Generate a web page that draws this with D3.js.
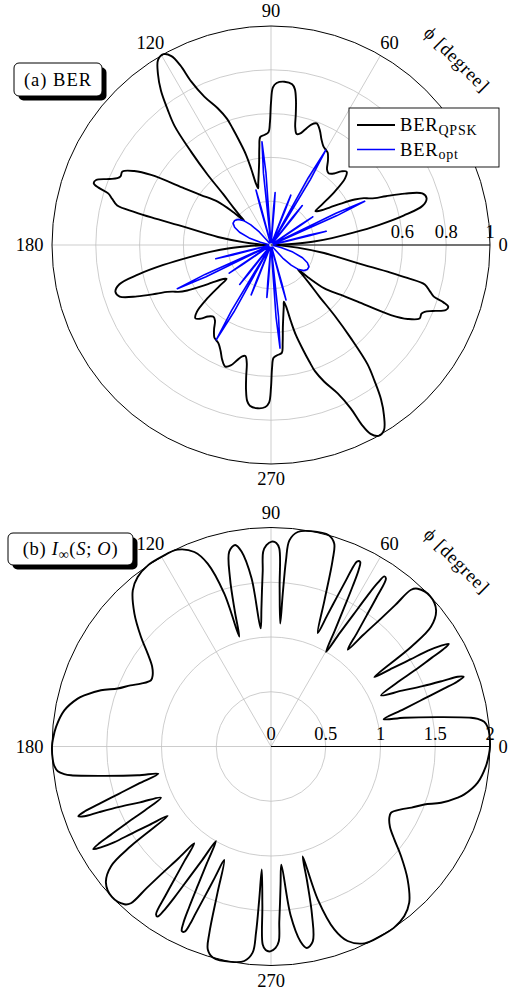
<!DOCTYPE html>
<html>
<head>
<meta charset="utf-8">
<script src="https://cdn.jsdelivr.net/npm/d3@7/dist/d3.min.js"></script>
<style>
  html, body { margin: 0; padding: 0; background: #ffffff; }
  svg { display: block; }
  text { font-family: "Liberation Serif", "Times New Roman", serif; fill: #000; }
</style>
</head>
<body>
<svg id="figure" width="514" height="992"></svg>
<script>
// ---------------- angular axis (degrees) ----------------
const angleTicks = [0, 60, 90, 120, 180, 270];
const angleTickLabels = ["0", "60", "90", "120", "180", "270"];

// ---------------- panel (a): BER ----------------
const berRings = [0.2, 0.4, 0.6, 0.8];
const berTicks = [0.6, 0.8, 1];
const berTickLabels = ["0.6", "0.8", "1"];

const qpskAnglesUpper = [0, 1.5, 3, 4.5, 6.5, 8.5, 10.5, 12.5, 14.5, 16.8,
  18.8, 21, 23, 24.3, 25.5, 26.8, 28.5, 30.5, 32.5, 34.5,
  36.3, 37.3, 38.5, 40, 42, 44.1, 46.3, 48.6, 51.3, 53.5,
  56, 58.5, 60.2, 62, 64.5, 67, 69.4, 71.5, 73.5, 75.5,
  77, 78.4, 79.3, 80.2, 81.3, 82.5, 85.3, 88, 89.3, 90,
  90.5, 91.3, 93.5, 95.7, 96.8, 98.2, 100, 101.8, 102.8, 103.8,
  104.6, 105.5, 107, 108.2, 109.2, 111.3, 114.2, 116, 116.8, 117.8,
  119.4, 121.4, 123.5, 125.5, 127.3, 129, 130.6, 132, 133.2, 135,
  136.8, 137.8, 139, 140.9, 144.5, 146.8, 149.7, 151.6, 153.7, 155.5,
  156.5, 157.8, 159.6, 160.8, 161.6, 162.4, 163.8, 165.6, 166.4, 167,
  168.2, 170, 171.4, 174.3, 177];
const qpskValuesUpper = [0.012, 0.04, 0.11, 0.19, 0.28, 0.38, 0.50, 0.62, 0.715, 0.742,
  0.73, 0.655, 0.57, 0.52, 0.495, 0.475, 0.435, 0.375, 0.32, 0.28,
  0.26, 0.255, 0.30, 0.38, 0.455, 0.481, 0.465, 0.435, 0.42, 0.43,
  0.465, 0.495, 0.502, 0.51, 0.535, 0.57, 0.593, 0.58, 0.55, 0.525,
  0.52, 0.55, 0.61, 0.67, 0.72, 0.74, 0.748, 0.74, 0.72, 0.65,
  0.56, 0.515, 0.503, 0.495, 0.45, 0.38, 0.325, 0.285, 0.265, 0.29,
  0.36, 0.43, 0.50, 0.56, 0.61, 0.67, 0.743, 0.83, 0.92, 0.975,
  1.0, 0.99, 0.935, 0.865, 0.78, 0.70, 0.56, 0.435, 0.32, 0.245,
  0.19, 0.165, 0.23, 0.314, 0.393, 0.473, 0.634, 0.71, 0.757, 0.755,
  0.765, 0.797, 0.852, 0.857, 0.83, 0.78, 0.755, 0.725, 0.64, 0.56,
  0.404, 0.30, 0.245, 0.122, 0.05];
const qpskAnglesLower = [180, 181.5, 183, 184.5, 186.5, 188.5, 190.5, 192.5, 194.5, 196.8,
  198.8, 201, 203, 204.3, 205.5, 206.8, 208.5, 210.5, 212.5, 214.5,
  216.3, 217.3, 218.5, 220, 222, 224.1, 226.3, 228.6, 231.3, 233.5,
  236, 238.5, 240.2, 242, 244.5, 247, 249.4, 251.5, 253.5, 255.5,
  257, 258.4, 259.3, 260.2, 261.3, 262.5, 265.3, 268, 269.3, 270,
  270.5, 271.3, 273.5, 275.7, 276.8, 278.2, 280, 281.8, 282.8, 283.8,
  284.6, 285.5, 287, 288.2, 289.2, 291.3, 294.2, 296, 296.8, 297.8,
  299.4, 301.4, 303.5, 305.5, 307.3, 309, 310.6, 312, 313.2, 315,
  316.8, 317.8, 319, 320.9, 324.5, 326.8, 329.7, 331.6, 333.7, 335.5,
  336.5, 337.8, 339.6, 340.8, 341.6, 342.4, 343.8, 345.6, 346.4, 347,
  348.2, 350, 351.4, 354.3, 357];
const qpskValuesLower = [0.012, 0.04, 0.11, 0.19, 0.28, 0.38, 0.50, 0.62, 0.715, 0.742,
  0.73, 0.655, 0.57, 0.52, 0.495, 0.475, 0.435, 0.375, 0.32, 0.28,
  0.26, 0.255, 0.30, 0.38, 0.455, 0.481, 0.465, 0.435, 0.42, 0.43,
  0.465, 0.495, 0.502, 0.51, 0.535, 0.57, 0.593, 0.58, 0.55, 0.525,
  0.52, 0.55, 0.61, 0.67, 0.72, 0.74, 0.748, 0.74, 0.72, 0.65,
  0.56, 0.515, 0.503, 0.495, 0.45, 0.38, 0.325, 0.285, 0.265, 0.29,
  0.36, 0.43, 0.50, 0.56, 0.61, 0.67, 0.743, 0.83, 0.92, 0.975,
  1.0, 0.99, 0.935, 0.865, 0.78, 0.70, 0.56, 0.435, 0.32, 0.245,
  0.19, 0.165, 0.23, 0.314, 0.393, 0.473, 0.634, 0.71, 0.757, 0.755,
  0.765, 0.797, 0.852, 0.857, 0.83, 0.78, 0.755, 0.725, 0.64, 0.56,
  0.404, 0.30, 0.245, 0.122, 0.05];

const optAnglesUpper = [0, 13, 13.5, 14, 14.5, 15, 23, 24, 25, 26, 27,
  33, 33.5, 34, 34.5, 35, 50.6, 51.1, 51.6, 52.1, 52.6,
  58, 59, 60, 61, 62, 67.3, 67.8, 68.3, 68.8, 69.3,
  84.5, 85, 85.5, 86, 86.5, 93, 94, 95, 96, 97,
  104.3, 104.8, 105.3, 105.8, 106.3,
  128, 132, 135, 138, 142, 146, 150, 154, 158, 162, 166, 169];
const optValuesUpper = [0.012, 0.012, 0.18, 0.26, 0.18, 0.012, 0.012, 0.33, 0.472, 0.33, 0.012,
  0.012, 0.16, 0.23, 0.16, 0.012, 0.012, 0.16, 0.23, 0.16, 0.012,
  0.012, 0.35, 0.50, 0.35, 0.012, 0.012, 0.17, 0.245, 0.17, 0.012,
  0.012, 0.17, 0.24, 0.17, 0.012, 0.012, 0.33, 0.473, 0.33, 0.012,
  0.012, 0.18, 0.26, 0.18, 0.012,
  0.012, 0.08, 0.13, 0.165, 0.19, 0.2, 0.2, 0.185, 0.155, 0.105, 0.05, 0.012];
const optAnglesLower = [180, 193, 193.5, 194, 194.5, 195, 203, 204, 205, 206, 207,
  213, 213.5, 214, 214.5, 215, 230.6, 231.1, 231.6, 232.1, 232.6,
  238, 239, 240, 241, 242, 247.3, 247.8, 248.3, 248.8, 249.3,
  264.5, 265, 265.5, 266, 266.5, 273, 274, 275, 276, 277,
  284.3, 284.8, 285.3, 285.8, 286.3,
  308, 312, 315, 318, 322, 326, 330, 334, 338, 342, 346, 349];
const optValuesLower = [0.012, 0.012, 0.18, 0.26, 0.18, 0.012, 0.012, 0.33, 0.472, 0.33, 0.012,
  0.012, 0.16, 0.23, 0.16, 0.012, 0.012, 0.16, 0.23, 0.16, 0.012,
  0.012, 0.35, 0.50, 0.35, 0.012, 0.012, 0.17, 0.245, 0.17, 0.012,
  0.012, 0.17, 0.24, 0.17, 0.012, 0.012, 0.33, 0.473, 0.33, 0.012,
  0.012, 0.18, 0.26, 0.18, 0.012,
  0.012, 0.08, 0.13, 0.165, 0.19, 0.2, 0.2, 0.185, 0.155, 0.105, 0.05, 0.012];

// ---------------- panel (b): I_inf(S;O) ----------------
const infoRings = [0.5, 1, 1.5];
const infoTicks = [0, 0.5, 1, 1.5, 2];
const infoTickLabels = ["0", "0.5", "1", "1.5", "2"];

const infoAnglesUpper = [0, 3.4, 5.1, 6.6, 7.6, 8.2, 10, 12.2, 13.6, 15.7,
  17.3, 18.5, 19.2, 19.9, 20.5, 20.9, 21.7, 23.1, 24.9, 26.9,
  27.9, 28.9, 29.4, 30, 30.7, 31.4, 32, 32.8, 33.9, 35.4,
  36.8, 39.5, 43.4, 47.1, 48.2, 48.7, 49.4, 50.4, 51.6, 52.9,
  53.9, 54.7, 55.6, 56.3, 56.9, 57.4, 58, 58.8, 59.8, 61.2,
  62.2, 63, 63.6, 64.2, 65, 65.5, 65.7, 66.2, 66.8, 67.6,
  69.9, 71.7, 72.7, 74.7, 79.5, 82.9, 84.9, 85.4, 85.6, 85.7,
  86.9, 87.6, 88.5, 89.8, 91.3, 92.3, 92.7, 93.3, 94, 95,
  96.6, 98.6, 100.1, 102.1, 103.7, 105, 106.1, 107, 109.1, 111.5,
  115.4, 120, 124.2, 128.2, 131.5, 135.8, 139.9, 143, 146, 149,
  151.1, 154.2, 156.5, 159.3, 161.7, 164.7, 166.1, 170.1, 174.8, 178];
const infoValuesUpper = [2.0, 1.997, 1.987, 1.96, 1.905, 1.845, 1.546, 1.245, 1.058, 1.26,
  1.46, 1.66, 1.80, 1.872, 1.82, 1.68, 1.49, 1.30, 1.108, 1.296,
  1.482, 1.675, 1.80, 1.875, 1.80, 1.68, 1.50, 1.32, 1.137, 1.569,
  1.824, 1.954, 2.0, 1.967, 1.92, 1.718, 1.52, 1.324, 1.128, 1.307,
  1.486, 1.665, 1.858, 1.867, 1.78, 1.633, 1.42, 1.21, 1.0, 1.213,
  1.428, 1.645, 1.80, 1.872, 1.866, 1.78, 1.672, 1.488, 1.303, 1.121,
  1.421, 1.791, 1.941, 2.0, 2.0, 1.974, 1.89, 1.706, 1.40, 1.125,
  1.458, 1.81, 1.86, 1.871, 1.84, 1.78, 1.604, 1.43, 1.257, 1.083,
  1.546, 1.80, 1.869, 1.82, 1.58, 1.274, 1.044, 1.459, 1.767, 1.909,
  1.99, 2.0, 2.0, 1.969, 1.905, 1.74, 1.552, 1.41, 1.31, 1.261,
  1.252, 1.319, 1.40, 1.497, 1.636, 1.768, 1.819, 1.916, 1.971, 1.992];
const infoAnglesLower = [180, 183.4, 185.1, 186.6, 187.6, 188.2, 190, 192.2, 193.6, 195.7,
  197.3, 198.5, 199.2, 199.9, 200.5, 200.9, 201.7, 203.1, 204.9, 206.9,
  207.9, 208.9, 209.4, 210, 210.7, 211.4, 212, 212.8, 213.9, 215.4,
  216.8, 219.5, 223.4, 227.1, 228.2, 228.7, 229.4, 230.4, 231.6, 232.9,
  233.9, 234.7, 235.6, 236.3, 236.9, 237.4, 238, 238.8, 239.8, 241.2,
  242.2, 243, 243.6, 244.2, 245, 245.5, 245.7, 246.2, 246.8, 247.6,
  249.9, 251.7, 252.7, 254.7, 259.5, 262.9, 264.9, 265.4, 265.6, 265.7,
  266.9, 267.6, 268.5, 269.8, 271.3, 272.3, 272.7, 273.3, 274, 275,
  276.6, 278.6, 280.1, 282.1, 283.7, 285, 286.1, 287, 289.1, 291.5,
  295.4, 300, 304.2, 308.2, 311.5, 315.8, 319.9, 323, 326, 329,
  331.1, 334.2, 336.5, 339.3, 341.7, 344.7, 346.1, 350.1, 354.8, 358];
const infoValuesLower = [2.0, 1.997, 1.987, 1.96, 1.905, 1.845, 1.546, 1.245, 1.058, 1.26,
  1.46, 1.66, 1.80, 1.872, 1.82, 1.68, 1.49, 1.30, 1.108, 1.296,
  1.482, 1.675, 1.80, 1.875, 1.80, 1.68, 1.50, 1.32, 1.137, 1.569,
  1.824, 1.954, 2.0, 1.967, 1.92, 1.718, 1.52, 1.324, 1.128, 1.307,
  1.486, 1.665, 1.858, 1.867, 1.78, 1.633, 1.42, 1.21, 1.0, 1.213,
  1.428, 1.645, 1.80, 1.872, 1.866, 1.78, 1.672, 1.488, 1.303, 1.121,
  1.421, 1.791, 1.941, 2.0, 2.0, 1.974, 1.89, 1.706, 1.40, 1.125,
  1.458, 1.81, 1.86, 1.871, 1.84, 1.78, 1.604, 1.43, 1.257, 1.083,
  1.546, 1.80, 1.869, 1.82, 1.58, 1.274, 1.044, 1.459, 1.767, 1.909,
  1.99, 2.0, 2.0, 1.969, 1.905, 1.74, 1.552, 1.41, 1.31, 1.261,
  1.252, 1.319, 1.40, 1.497, 1.636, 1.768, 1.819, 1.916, 1.971, 1.992];

// ---------------- drawing ----------------
const svg = d3.select("#figure");
const GRID = "#c0c0c0";
const R = 219;
const FONT = 18.5;
const rad = d => d * Math.PI / 180;

function series(angles, values) {
  return angles.map((a, i) => ({ a, v: values[i] }));
}

function drawPanel(cfg) {
  const g = svg.append("g").attr("transform", `translate(${cfg.cx},${cfg.cy})`);
  const r = d3.scaleLinear().domain([0, cfg.max]).range([0, R]);

  // concentric grid rings
  g.selectAll("circle.ring").data(cfg.rings).join("circle")
    .attr("class", "ring").attr("r", d => r(d))
    .attr("fill", "none").attr("stroke", GRID).attr("stroke-width", 0.8);

  // spokes at the angular ticks
  g.selectAll("line.spoke").data(angleTicks).join("line")
    .attr("class", "spoke")
    .attr("x1", 0).attr("y1", 0)
    .attr("x2", d => R * Math.cos(rad(d)))
    .attr("y2", d => -R * Math.sin(rad(d)))
    .attr("stroke", GRID).attr("stroke-width", 0.8);

  // outer boundary and radial axis
  g.append("circle").attr("r", R).attr("fill", "none")
    .attr("stroke", "#000").attr("stroke-width", 1);
  g.append("line").attr("x1", 0).attr("y1", 0).attr("x2", R).attr("y2", 0)
    .attr("stroke", "#000").attr("stroke-width", 1.2);

  // radial tick labels
  g.selectAll("text.rtick").data(cfg.ticks).join("text")
    .attr("class", "rtick")
    .attr("x", d => r(d)).attr("y", -7)
    .attr("text-anchor", "middle")
    .attr("font-size", FONT)
    .text((d, i) => cfg.tickLabels[i]);

  // angular tick labels, pushed outward according to their extent
  angleTicks.forEach((deg, i) => {
    const t = g.append("text")
      .attr("text-anchor", "middle").attr("dy", "0.35em")
      .attr("font-size", FONT).text(angleTickLabels[i]);
    const w = t.node().getBBox().width, h = 13;
    const c = Math.cos(rad(deg)), s = Math.sin(rad(deg));
    const d = R + 8.5;
    t.attr("x", d * c + c * w / 2).attr("y", -d * s - s * h / 2);
  });

  // axis name along the rim
  g.append("text")
    .attr("transform", `translate(${263 * Math.cos(rad(45))},${-263 * Math.sin(rad(45))}) rotate(45)`)
    .attr("text-anchor", "middle").attr("dy", "0.35em")
    .attr("font-size", FONT).attr("letter-spacing", 0.8)
    .text("\u03D5 [degree]");

  return { g, r };
}

function drawCurve(panel, data, color, width, curve) {
  const line = d3.lineRadial()
    .angle(d => rad(90 - d.a))
    .radius(d => panel.r(d.v))
    .curve(curve);
  panel.g.append("path").datum(data)
    .attr("d", line)
    .attr("fill", "none").attr("stroke", color)
    .attr("stroke-width", width).attr("stroke-linejoin", "round");
}

function titleBox(x, y, w, h, build) {
  const g = svg.append("g");
  g.append("rect").attr("x", x + 4.5).attr("y", y + 4.5).attr("width", w).attr("height", h)
    .attr("rx", 5).attr("fill", "#000");
  g.append("rect").attr("x", x).attr("y", y).attr("width", w).attr("height", h)
    .attr("rx", 5).attr("fill", "#fff").attr("stroke", "#000").attr("stroke-width", 1);
  const t = g.append("text").attr("x", x + w / 2).attr("y", y + h / 2)
    .attr("dy", "0.33em").attr("text-anchor", "middle").attr("font-size", FONT);
  build(t);
}

// panel (a)
const pa = drawPanel({ cx: 271, cy: 245, max: 1, rings: berRings, ticks: berTicks, tickLabels: berTickLabels });
drawCurve(pa, series(qpskAnglesUpper.concat(qpskAnglesLower), qpskValuesUpper.concat(qpskValuesLower)),
  "#000", 1.9, d3.curveCatmullRomClosed.alpha(0.5));
drawCurve(pa, series(optAnglesUpper.concat(optAnglesLower), optValuesUpper.concat(optValuesLower)),
  "#0000ff", 1.6, d3.curveLinearClosed);

titleBox(14, 63, 88, 33, t => {
  t.attr("letter-spacing", 1).text("(a) BER");
});

// legend
const lg = svg.append("g");
lg.append("rect").attr("x", 349).attr("y", 108).attr("width", 150).attr("height", 59)
  .attr("fill", "#fff").attr("stroke", "#000").attr("stroke-width", 0.9);
const legendItems = [
  { label: "BER", sub: "QPSK", color: "#000", width: 1.9 },
  { label: "BER", sub: "opt", color: "#0000ff", width: 1.6 }
];
legendItems.forEach((it, i) => {
  const y = 125 + i * 24.5;
  lg.append("line").attr("x1", 357).attr("x2", 395).attr("y1", y).attr("y2", y)
    .attr("stroke", it.color).attr("stroke-width", it.width);
  const t = lg.append("text").attr("x", 400).attr("y", y + 6).attr("font-size", FONT)
    .attr("letter-spacing", 0.8);
  t.append("tspan").text(it.label);
  t.append("tspan").attr("font-size", 14).attr("dy", 3.5).text(it.sub);
});

// panel (b)
const pb = drawPanel({ cx: 271, cy: 746.5, max: 2, rings: infoRings, ticks: infoTicks, tickLabels: infoTickLabels });
drawCurve(pb, series(infoAnglesUpper.concat(infoAnglesLower), infoValuesUpper.concat(infoValuesLower)),
  "#000", 1.9, d3.curveCatmullRomClosed.alpha(0.5));

titleBox(8, 533, 125, 32, t => {
  t.attr("letter-spacing", 0.7);
  t.append("tspan").text("(b) ");
  t.append("tspan").attr("font-style", "italic").text("I");
  t.append("tspan").attr("font-size", 14).attr("dy", 4).text("\u221E");
  t.append("tspan").attr("dy", -4).text("(");
  t.append("tspan").attr("font-style", "italic").text("S");
  t.append("tspan").text("; ");
  t.append("tspan").attr("font-style", "italic").text("O");
  t.append("tspan").text(")");
});
</script>
</body>
</html>
